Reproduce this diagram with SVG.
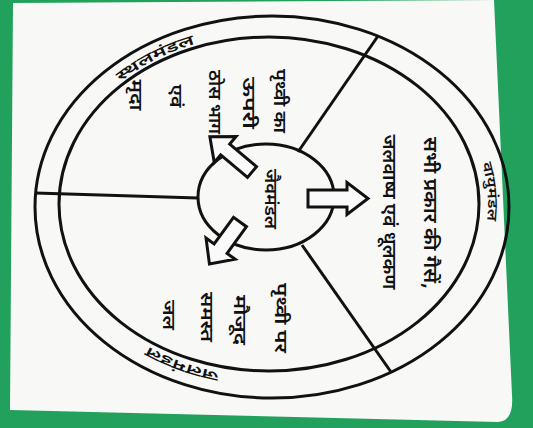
<svg xmlns="http://www.w3.org/2000/svg" xmlns:xlink="http://www.w3.org/1999/xlink" width="533" height="428" viewBox="0 0 533 428">
<style>
.ln{fill:none;stroke:#111;stroke-width:3}
.arrow{fill:#fafafa;stroke:#111;stroke-width:3;stroke-linejoin:miter}
.t{font-family:"Noto Sans Devanagari","Noto Sans","Lohit Devanagari",FreeSans,sans-serif;fill:#111;text-anchor:middle;font-weight:600}
.col{font-size:17px}
.big{font-size:19px}
.lab{font-size:14px}
</style>
<defs>
<path id="rp" d="M56,205 A214,172 0 1 1 484,205 A214,172 0 1 1 56,205"/>
<path id="rpr" d="M68,205 A210,174 0 1 1 488,205 A210,174 0 1 1 68,205"/>
</defs>
<rect width="533" height="428" fill="#22a15c"/>
<path d="M13,3 L494,0 L512,395 Q514,421 498,422 L10,410 Z" fill="#f8f8f6"/>
<g id="rings">
<ellipse class="ln" cx="272" cy="207" rx="237" ry="191"/>
<ellipse class="ln" cx="269" cy="204" rx="210" ry="167"/>
</g>
<g id="connectors">
<line class="ln" x1="35" y1="193" x2="198" y2="198"/>
<line class="ln" x1="378" y1="36" x2="298" y2="152"/>
<line class="ln" x1="302" y1="245" x2="391" y2="372"/>
</g>
<g id="biosphere">
<ellipse class="ln" cx="266" cy="197" rx="68" ry="53" fill="#fafafa"/>
<text class="t col" transform="translate(265,199) rotate(90)" textLength="60" lengthAdjust="spacingAndGlyphs">जैवमंडल</text>
</g>
<g id="lithosphere">
<text class="t lab"><textPath xlink:href="#rp" href="#rp" startOffset="15.3%" textLength="84" lengthAdjust="spacingAndGlyphs">स्थलमंडल</textPath></text>
<text class="t col" transform="translate(274,101) rotate(90)" textLength="64" lengthAdjust="spacingAndGlyphs">पृथ्वी का</text>
<text class="t col" transform="translate(243,103) rotate(90)" textLength="52" lengthAdjust="spacingAndGlyphs">ऊपरी</text>
<text class="t col" transform="translate(209,102) rotate(90)" textLength="64" lengthAdjust="spacingAndGlyphs">ठोस भाग</text>
<text class="t col" transform="translate(170,96) rotate(90)" textLength="23" lengthAdjust="spacingAndGlyphs">एवं</text>
<text class="t col" transform="translate(130,95) rotate(90)" textLength="31" lengthAdjust="spacingAndGlyphs">मृदा</text>
</g>
<g id="atmosphere">
<text class="t lab"><textPath xlink:href="#rpr" href="#rpr" startOffset="48.9%" textLength="58" lengthAdjust="spacingAndGlyphs">वायुमंडल</textPath></text>
<text class="t big" transform="translate(424,213) rotate(90)" textLength="152" lengthAdjust="spacingAndGlyphs">सभी प्रकार की गैसें,</text>
<text class="t big" transform="translate(383,212) rotate(90)" textLength="155" lengthAdjust="spacingAndGlyphs">जलवाष्प एवं धूलकण</text>
</g>
<g id="hydrosphere">
<text class="t lab"><textPath xlink:href="#rp" href="#rp" startOffset="82.3%" textLength="76" lengthAdjust="spacingAndGlyphs">जलमंडल</textPath></text>
<text class="t col" transform="translate(275,318) rotate(90)" textLength="70" lengthAdjust="spacingAndGlyphs">पृथ्वी पर</text>
<text class="t col" transform="translate(234,320) rotate(90)" textLength="50" lengthAdjust="spacingAndGlyphs">मौजूद</text>
<text class="t col" transform="translate(201,317) rotate(90)" textLength="50" lengthAdjust="spacingAndGlyphs">समस्त</text>
<text class="t col" transform="translate(163,315) rotate(90)" textLength="30" lengthAdjust="spacingAndGlyphs">जल</text>
</g>
<g id="arrows">
<path class="arrow" transform="translate(252,172) rotate(220)" d="M0,-7 L35,-7 L35,-17 L55,0 L35,17 L35,7 L0,7 Z"/>
<path class="arrow" transform="translate(308,198.5)" d="M0,-8.5 L39,-8.5 L39,-16 L60,0 L39,16 L39,8.5 L0,8.5 Z"/>
<path class="arrow" transform="translate(240,222) rotate(126)" d="M0,-8 L33,-8 L33,-18 L52,0 L33,18 L33,8 L0,8 Z"/>
</g>
</svg>
